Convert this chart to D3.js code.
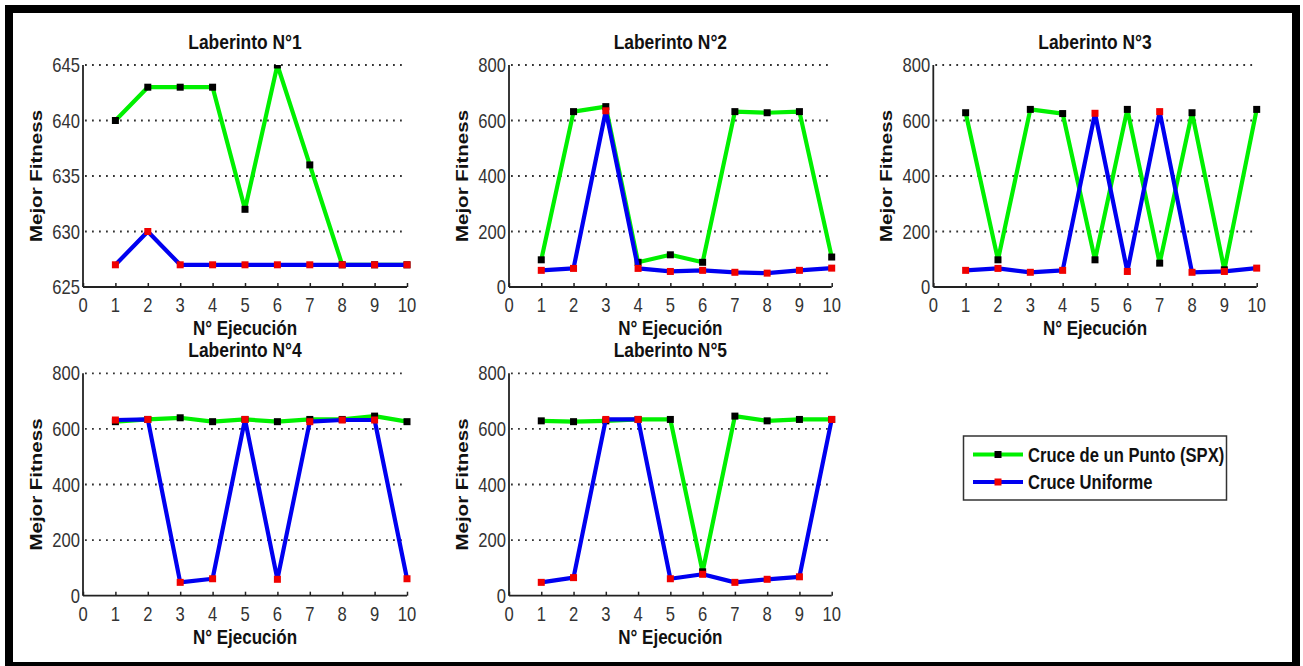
<!DOCTYPE html>
<html><head><meta charset="utf-8">
<script src="https://cdn.jsdelivr.net/npm/d3@7"></script>
<style>html,body{margin:0;padding:0;background:#fff;}svg{display:block;}</style>
</head><body>
<script>
// ---- data ----
const runs = [1,2,3,4,5,6,7,8,9,10];
const xTicks = [0,1,2,3,4,5,6,7,8,9,10];
const titles = ["Laberinto N°1","Laberinto N°2","Laberinto N°3","Laberinto N°4","Laberinto N°5"];
const seriesNames = ["Cruce de un Punto (SPX)","Cruce Uniforme"];
const yTicks1 = [625,630,635,640,645];
const yTicksOther = [0,200,400,600,800];
const spx1 = [640,643,643,643,632,645,636,627,627,627];
const uni1 = [627,630,627,627,627,627,627,627,627,627];
const spx2 = [98,632,650,89,116,89,632,628,632,108];
const uni2 = [60,67,635,67,56,60,53,50,60,68];
const spx3 = [628,98,640,625,98,640,86,628,62,640];
const uni3 = [60,67,53,60,626,56,632,53,56,68];
const spx4 = [626,634,640,626,634,626,634,634,646,626];
const uni4 = [632,634,48,61,634,59,626,632,632,61];
const spx5 = [629,626,629,634,634,86,646,629,634,634];
const uni5 = [48,65,634,634,61,77,48,59,68,634];
const xLabel = "N° Ejecución";
const yLabel = "Mejor Fitness";

// ---- layout ----
const W = 1303, H = 666;
const svg = d3.select("body").append("svg").attr("width", W).attr("height", H);
svg.append("rect").attr("x",0).attr("y",0).attr("width",W).attr("height",H).attr("fill","#fff");
svg.append("rect").attr("x",5).attr("y",5).attr("width",1295).attr("height",665).attr("fill","#000");
svg.append("rect").attr("x",13).attr("y",13).attr("width",1279).attr("height",649).attr("fill","#fff");

const FONT = "'Liberation Sans', Arial, Helvetica, sans-serif";
const SX = 0.83;
function txt(g, x, y, s, o) {
  o = o || {};
  const t = g.append("text")
    .attr("transform", `translate(${x},${y}) scale(${SX},1)` + (o.rotate ? ` rotate(${o.rotate})` : ""))
    .attr("x",0).attr("y",0)
    .attr("font-family", FONT)
    .attr("font-size", o.size || 19)
    .attr("font-weight", o.weight || "normal")
    .attr("text-anchor", o.anchor || "middle")
    .attr("dominant-baseline", "central")
    .attr("fill", o.fill || "#111")
    .text(s);
  return t;
}

const panels = [
  {title:titles[0], spx:spx1, uni:uni1, yt:yTicks1, dom:[625,645], l:83,  r:407,   t:65,    b:287},
  {title:titles[1], spx:spx2, uni:uni2, yt:yTicksOther, dom:[0,800], l:509, r:831.7, t:65,    b:287},
  {title:titles[2], spx:spx3, uni:uni3, yt:yTicksOther, dom:[0,800], l:933.3, r:1256.7, t:65, b:287},
  {title:titles[3], spx:spx4, uni:uni4, yt:yTicksOther, dom:[0,800], l:83,  r:407,   t:373.3, b:595.7},
  {title:titles[4], spx:spx5, uni:uni5, yt:yTicksOther, dom:[0,800], l:509, r:831.7, t:373.3, b:595.7}
];

const GREEN = "#00f000", BLUE = "#0000f0", RED = "#f00000", BLACK = "#000";
const MS = 7;
const defs = svg.append("defs");

panels.forEach((p, i) => {
  const g = svg.append("g");
  const x = d3.scaleLinear().domain([0,10]).range([p.l, p.r]);
  const y = d3.scaleLinear().domain(p.dom).range([p.b, p.t]);
  defs.append("clipPath").attr("id", "clip" + i).append("rect")
    .attr("x", p.l - 10).attr("y", p.t).attr("width", p.r - p.l + 20).attr("height", p.b - p.t + 10);

  // gridlines
  g.selectAll("line.grid").data(p.yt.slice(1)).join("line")
    .attr("x1", p.l + 2).attr("x2", x(10))
    .attr("y1", d => y(d)).attr("y2", d => y(d))
    .attr("stroke", "#333").attr("stroke-width", 1.8)
    .attr("stroke-dasharray", "1.8,5.2");

  // axes
  const xa = g.append("g").attr("transform", `translate(0,${p.b})`)
    .call(d3.axisBottom(x).tickValues(xTicks).tickSize(-4).tickFormat(""));
  xa.select(".domain").attr("stroke","#222").attr("stroke-width",1.8).attr("d", `M${p.l},0H${x(10)}`);
  xa.selectAll(".tick line").attr("stroke","#222").attr("stroke-width",1.5);
  const ya = g.append("g").attr("transform", `translate(${p.l},0)`)
    .call(d3.axisLeft(y).tickValues(p.yt).tickSize(0).tickFormat(""));
  ya.select(".domain").attr("stroke","#222").attr("stroke-width",1.8).attr("d", `M0,${p.t}V${p.b}`);

  // tick labels
  xTicks.forEach(v => txt(g, x(v), p.b + 18, String(v), {size:20, fill:"#333"}));
  p.yt.forEach(v => txt(g, p.l - 3, y(v), String(v), {size:20, anchor:"end", fill:"#333"}));

  // titles and labels
  txt(g, (p.l + p.r)/2, p.t - 23, p.title, {size:21, weight:"bold"});
  txt(g, (p.l + p.r)/2, p.b + 41, xLabel, {size:20.5, weight:"bold"});
  txt(g, p.l - 47, (p.t + p.b)/2, yLabel, {size:20.5, weight:"bold", rotate:-90});

  const plot = g.append("g").attr("clip-path", `url(#clip${i})`);
  const line = d3.line().x((d,j) => x(runs[j])).y(d => y(d));
  [[p.spx, GREEN, BLACK], [p.uni, BLUE, RED]].forEach(([vals, lc, mc]) => {
    plot.append("path").datum(vals).attr("d", line)
      .attr("fill","none").attr("stroke", lc).attr("stroke-width", 4.2)
      .attr("stroke-linejoin","round");
    plot.selectAll(null).data(vals).join("rect")
      .attr("x", (d,j) => x(runs[j]) - MS/2).attr("y", d => y(d) - MS/2)
      .attr("width", MS).attr("height", MS).attr("fill", mc);
  });
});

// legend
const lg = svg.append("g");
lg.append("rect").attr("x",963.5).attr("y",436).attr("width",263).attr("height",64)
  .attr("fill","#fff").attr("stroke","#333").attr("stroke-width",1.5);
[[GREEN, BLACK, 454.5], [BLUE, RED, 482]].forEach(([lc, mc, yy], k) => {
  lg.append("line").attr("x1",973).attr("x2",1023).attr("y1",yy).attr("y2",yy)
    .attr("stroke",lc).attr("stroke-width",4.2);
  lg.append("rect").attr("x",998-MS/2).attr("y",yy-MS/2).attr("width",MS).attr("height",MS).attr("fill",mc);
  txt(lg, 1028, yy, seriesNames[k], {size:20, weight:"bold", anchor:"start"});
});
</script>
</body></html>
